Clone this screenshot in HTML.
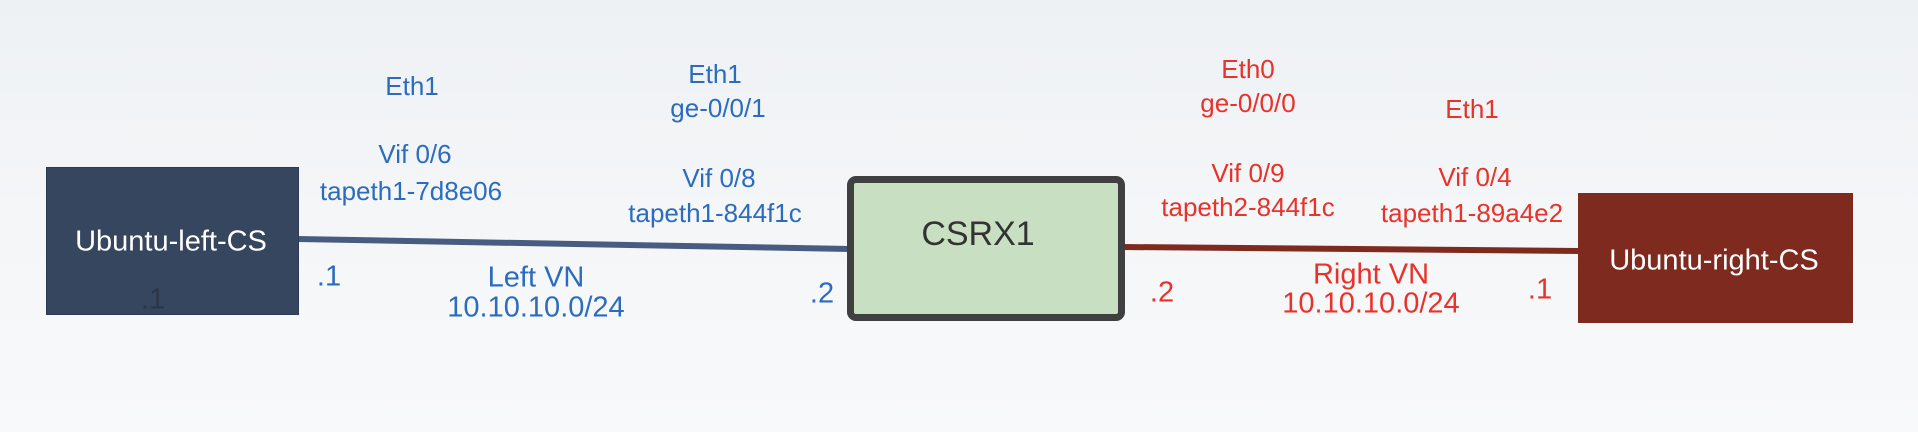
<!DOCTYPE html>
<html><head><meta charset="utf-8"><style>
html,body{margin:0;padding:0}
body{width:1918px;height:432px;position:relative;overflow:hidden;background:linear-gradient(180deg,#eef1f4 0%,#f4f6f8 50%,#f8f9fb 100%);font-family:"Liberation Sans",sans-serif}
.t{position:absolute;white-space:nowrap;transform:translate(-50%,-50%);font-size:26px;line-height:1}
.b{color:#2b6cbf}.r{color:#e8322a}
.big{font-size:29px}
.box{position:absolute;box-sizing:border-box}
</style></head><body>
<svg width="1918" height="432" style="position:absolute;left:0;top:0">
<line x1="298" y1="239" x2="850" y2="249" stroke="#485c82" stroke-width="6"/>
<line x1="1122" y1="247" x2="1580" y2="251" stroke="#7f2a1e" stroke-width="6"/>
</svg>
<div class="box" style="left:46px;top:167px;width:253px;height:148px;background:#36465f;border:1px solid #2d3b52"></div>
<div class="box" style="left:847px;top:176px;width:278px;height:145px;background:#c8dfc2;border:7px solid #404040;border-radius:9px"></div>
<div class="box" style="left:1578px;top:193px;width:275px;height:130px;background:#7f2a1e"></div>
<div class="t" style="left:171px;top:242px;color:#fff;font-size:29px">Ubuntu-left-CS</div>
<div class="t" style="left:153px;top:300px;color:#2a3548;font-size:29px">.1</div>
<div class="t" style="left:978px;top:234px;color:#333;font-size:34px">CSRX1</div>
<div class="t" style="left:1714px;top:261px;color:#fff;font-size:29px">Ubuntu-right-CS</div>
<div class="t b" style="left:412px;top:86px">Eth1</div>
<div class="t b" style="left:415px;top:154px">Vif 0/6</div>
<div class="t b" style="left:411px;top:191px">tapeth1-7d8e06</div>
<div class="t b" style="left:715px;top:74px">Eth1</div>
<div class="t b" style="left:718px;top:108px">ge-0/0/1</div>
<div class="t b" style="left:719px;top:178px">Vif 0/8</div>
<div class="t b" style="left:715px;top:213px">tapeth1-844f1c</div>
<div class="t b big" style="left:329px;top:277px">.1</div>
<div class="t b big" style="left:536px;top:278px">Left VN</div>
<div class="t b big" style="left:536px;top:308px">10.10.10.0/24</div>
<div class="t b big" style="left:822px;top:294px">.2</div>
<div class="t r" style="left:1248px;top:69px">Eth0</div>
<div class="t r" style="left:1248px;top:103px">ge-0/0/0</div>
<div class="t r" style="left:1472px;top:109px">Eth1</div>
<div class="t r" style="left:1248px;top:173px">Vif 0/9</div>
<div class="t r" style="left:1248px;top:207px">tapeth2-844f1c</div>
<div class="t r" style="left:1475px;top:177px">Vif 0/4</div>
<div class="t r" style="left:1472px;top:213px">tapeth1-89a4e2</div>
<div class="t r big" style="left:1162px;top:293px">.2</div>
<div class="t r big" style="left:1371px;top:275px">Right VN</div>
<div class="t r big" style="left:1371px;top:304px">10.10.10.0/24</div>
<div class="t r big" style="left:1540px;top:290px">.1</div>
</body></html>
